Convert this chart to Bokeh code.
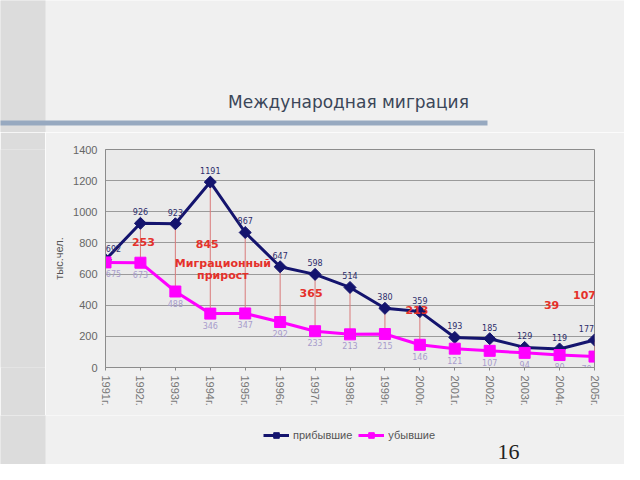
import math
from bokeh.plotting import figure
from bokeh.layouts import column, row
from bokeh.models import (ColumnDataSource, Label, Legend, LegendItem,
                          FixedTicker, Range1d)
from bokeh.core.properties import value
from bokeh.embed import file_html
from bokeh.resources import INLINE

# ---------------- data ----------------
years = ["1991г.", "1992г.", "1993г.", "1994г.", "1995г.", "1996г.", "1997г.", "1998г.",
         "1999г.", "2000г.", "2001г.", "2002г.", "2003г.", "2004г.", "2005г."]
arrivals = [692, 926, 923, 1191, 867, 647, 598, 514, 380, 359, 193, 185, 129, 119, 177]
departures = [675, 673, 488, 346, 347, 292, 233, 213, 215, 146, 121, 107, 94, 80, 70]
y_ticks = [0, 200, 400, 600, 800, 1000, 1200, 1400]
series_names = ["прибывшие", "убывшие"]
gain_years = ["1992г.", "1994г.", "1997г.", "2000г.", "2004г.", "2005г."]
title_text = "Международная миграция"
y_label = "тыс.чел."
gain_caption = ["Миграционный", "прирост"]
page_number = "16"

# ---------------- layout (positions only) ----------------
gain_place = {"1992г.": (808, 3), "1994г.": (796, -3), "1997г.": (476, -4),
              "2000г.": (367, -3), "2004г.": (399, -8), "2005г.": (463, -10)}

FONT = "Liberation Sans"
RED = "#e5312b"
NAVY = "#14146e"
MAG = "#ff00ff"
BG = "#f0f0f0"
STRIP = "#dcdcdc"
BAR = "#97a9c0"

W, H = 624, 464
STRIP_W = 45
RW = W - STRIP_W
HEAD_H = 132
CH_H = 283
FOOT_H = H - HEAD_H - CH_H


def blank(width, height, fill):
    f = figure(width=width, height=height, output_backend="svg", toolbar_location=None,
               x_range=Range1d(0, width), y_range=Range1d(height, 0),
               x_axis_location=None, y_axis_location=None,
               min_border=0, min_border_left=0, min_border_right=0,
               min_border_top=0, min_border_bottom=0,
               background_fill_color=fill, border_fill_color=fill)
    f.grid.visible = False
    f.outline_line_color = None
    return f


# ---------------- header (slide title) ----------------
head = blank(W, HEAD_H, BG)
head.quad(left=[-5], right=[STRIP_W], top=[-5], bottom=[HEAD_H + 5],
          fill_color=STRIP, line_color=None)
head.quad(left=[-5], right=[487], top=[120], bottom=[125],
          fill_color=BAR, line_color=None)
head.text(x=[348], y=[101], text=[title_text], text_align="center",
          text_baseline="middle", text_font=value("DejaVu Sans"),
          text_font_size="17px", text_color="#3b4658")

# ---------------- left strip ----------------
strip = blank(STRIP_W, CH_H, STRIP)

# ---------------- chart ----------------
xs = list(range(len(years)))
edge_dx = [8 if i == 0 else (-8 if i == len(xs) - 1 else 0) for i in xs]
src = ColumnDataSource(dict(
    x=xs, arr=arrivals, dep=departures, dx=edge_dx,
    arr_t=[str(v) for v in arrivals], dep_t=[str(v) for v in departures]))

p = figure(width=RW, height=CH_H, output_backend="svg", toolbar_location=None,
           x_range=Range1d(0, len(years) - 1), y_range=Range1d(y_ticks[0], y_ticks[-1]),
           min_border_left=60, min_border_right=30, min_border_top=17, min_border_bottom=48,
           background_fill_color="#eaeaea", border_fill_color=BG)
p.outline_line_color = "#8c8c8c"
p.xgrid.grid_line_color = None
p.ygrid.grid_line_color = "#9a9a9a"

p.yaxis.ticker = FixedTicker(ticks=y_ticks)
p.yaxis.axis_label = y_label
p.yaxis.axis_label_text_font = FONT
p.yaxis.axis_label_text_font_size = "11px"
p.yaxis.axis_label_text_font_style = "normal"
p.yaxis.axis_label_text_color = "#555555"
p.yaxis.axis_label_standoff = 5
p.yaxis.major_label_text_font = FONT
p.yaxis.major_label_text_font_size = "11px"
p.yaxis.major_label_text_color = "#666666"
p.yaxis.major_label_standoff = 8
p.yaxis.major_tick_out = 0
p.yaxis.major_tick_in = 0
p.yaxis.minor_tick_line_color = None
p.yaxis.axis_line_color = "#8c8c8c"

p.xaxis.ticker = FixedTicker(ticks=xs)
p.xaxis.major_label_overrides = {i: y for i, y in zip(xs, years)}
p.xaxis.major_label_orientation = -math.pi / 2
p.xaxis.major_label_text_font = FONT
p.xaxis.major_label_text_font_size = "11px"
p.xaxis.major_label_text_color = "#777777"
p.xaxis.major_label_standoff = 5
p.xaxis.major_tick_out = 3
p.xaxis.major_tick_in = 0
p.xaxis.major_tick_line_color = "#888888"
p.xaxis.minor_tick_line_color = None
p.xaxis.axis_line_color = "#8c8c8c"

# drop lines
p.segment(x0="x", y0="arr", x1="x", y1="dep", source=src, line_color="#d97a7a", line_width=1)

# series
arr_line = dict(line_color=NAVY, line_width=3)
arr_mark = dict(marker="square", angle=math.pi / 4, size=8.5, fill_color=NAVY, line_color=NAVY)
dep_line = dict(line_color=MAG, line_width=3)
dep_mark = dict(marker="square", size=11, fill_color=MAG, line_color=MAG)
p.line("x", "arr", source=src, **arr_line)
p.scatter("x", "arr", source=src, **arr_mark)
p.line("x", "dep", source=src, **dep_line)
p.scatter("x", "dep", source=src, **dep_mark)

# data labels
p.text("x", "arr", text="arr_t", source=src, x_offset="dx", y_offset=-8, text_align="center",
       text_baseline="bottom", text_font=value("DejaVu Sans"), text_font_size="8px",
       text_color="#2d2d6b")
p.text("x", "dep", text="dep_t", source=src, x_offset="dx", y_offset=8, text_align="center",
       text_baseline="top", text_font=value("DejaVu Sans"), text_font_size="8px",
       text_color="#a89ccc")

# migration gain labels
gx, gy, gt, gdx = [], [], [], []
for yr in gain_years:
    i = years.index(yr)
    lvl, dx = gain_place[yr]
    gx.append(i)
    gy.append(lvl)
    gt.append(str(arrivals[i] - departures[i]))
    gdx.append(dx)
gsrc = ColumnDataSource(dict(x=gx, y=gy, t=gt, dx=gdx))
p.text("x", "y", text="t", x_offset="dx", source=gsrc, text_align="center",
       text_baseline="middle", text_font=value("DejaVu Sans"), text_font_style="bold",
       text_font_size="11px", text_color=RED)
for txt, lvl in zip(gain_caption, [668, 591]):
    p.add_layout(Label(x=3.36, y=lvl, text=txt, text_align="center",
                       text_baseline="middle", text_font="DejaVu Sans",
                       text_font_style="bold", text_font_size="11px", text_color=RED))

# ---------------- footer: legend + page number ----------------
foot = blank(W, FOOT_H, BG)
foot.quad(left=[-5], right=[STRIP_W], top=[-5], bottom=[FOOT_H + 5],
          fill_color=STRIP, line_color=None)
proxy = ColumnDataSource(dict(x=[-1000, -999], y=[-1000, -999]))
fl_a = foot.line("x", "y", source=proxy, **arr_line)
fm_a = foot.scatter("x", "y", source=proxy, **arr_mark)
fl_d = foot.line("x", "y", source=proxy, **dep_line)
fm_d = foot.scatter("x", "y", source=proxy, **dep_mark)
legend = Legend(items=[LegendItem(label=series_names[0], renderers=[fl_a, fm_a]),
                       LegendItem(label=series_names[1], renderers=[fl_d, fm_d])],
                location=(263, FOOT_H - 13 - 14), orientation="horizontal",
                background_fill_alpha=0, border_line_alpha=0,
                label_text_font=FONT, label_text_font_size="11px",
                label_text_color="#555555", glyph_width=26, glyph_height=14,
                label_standoff=4, spacing=6, padding=0, margin=0)
foot.add_layout(legend)
foot.text(x=[508], y=[451 - HEAD_H - CH_H], text=[page_number], text_align="center",
          text_baseline="middle", text_font=value("Liberation Serif"),
          text_font_size="22px", text_color="#222222")

layout = column(head, row(strip, p, spacing=0), foot, spacing=0)
open("out.html", "w").write(file_html(layout, INLINE))
